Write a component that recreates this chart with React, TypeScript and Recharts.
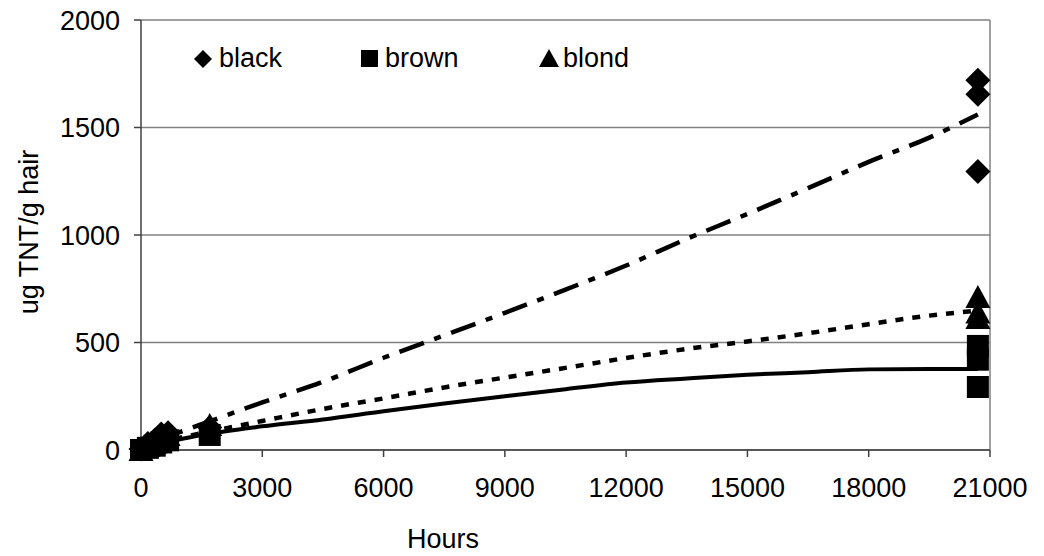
import React from 'react'
import {
  ComposedChart, Line, Scatter, XAxis, YAxis, CartesianGrid, ReferenceLine
} from 'recharts'

// trend curves
const trendHours = [0, 1500, 3000, 4500, 6000, 7500, 9000, 10500, 12000, 13500, 15000, 16500, 18000, 19500, 20700]
const blackTrend = [20, 120, 221, 317, 429, 533, 638, 746, 858, 982, 1098, 1218, 1340, 1453, 1560]
const blondTrend = [20, 78, 135, 191, 240, 291, 337, 382, 428, 470, 505, 543, 585, 625, 648]
const brownTrend = [10, 70, 110, 142, 180, 216, 250, 283, 314, 333, 350, 362, 375, 377, 377]

// measured samples
const sampleHours = [0, 170, 340, 500, 670, 1700, 20700, 20700, 20700]
const blackValues = [5, 30, 45, 75, 80, 105, 1720, 1655, 1295]
const brownValues = [0, 10, 20, 35, 45, 70, 484, 420, 293]
const blondValues = [0, 20, 35, 55, 70, 116, 712, 640, 614]

const xTicks = [0, 3000, 6000, 9000, 12000, 15000, 18000, 21000]
const yTicks = [0, 500, 1000, 1500, 2000]

const toPoints = (xs: number[], ys: number[]) => xs.map((x, i) => ({ x, y: ys[i] }))

const FONT = 'Liberation Sans, Arial, sans-serif'

const Diamond = ({ cx, cy }: any) => (
  <polygon points={`${cx},${cy - 12.5} ${cx + 12.5},${cy} ${cx},${cy + 12.5} ${cx - 12.5},${cy}`} fill="#000" />
)
const Square = ({ cx, cy }: any) => (
  <rect x={cx - 11} y={cy - 11} width={22} height={22} fill="#000" />
)
const Triangle = ({ cx, cy }: any) => (
  <polygon points={`${cx},${cy - 12} ${cx + 12.5},${cy + 11} ${cx - 12.5},${cy + 11}`} fill="#000" />
)

const tickStyle = { fontSize: 27, fontFamily: FONT, fill: '#000' }

export default function App() {
  return (
    <div style={{ position: 'absolute', left: 0, top: 0, width: 1044, height: 556, background: '#fff' }}>
      <ComposedChart width={1044} height={556} margin={{ top: 20, right: 54, bottom: 56, left: 41 }}>
        <CartesianGrid vertical={false} stroke="#808080" strokeWidth={1.5} />
        <ReferenceLine x={21000} stroke="#808080" strokeWidth={1.5} />
        <XAxis
          type="number" dataKey="x" domain={[0, 21000]} ticks={xTicks}
          height={50} tickSize={7} tickMargin={21} tick={tickStyle}
          axisLine={{ stroke: '#404040', strokeWidth: 1.5 }} tickLine={{ stroke: '#404040', strokeWidth: 1.5 }}
        />
        <YAxis
          type="number" dataKey="y" domain={[0, 2000]} ticks={yTicks}
          width={100} tickSize={7} tickMargin={14} tick={tickStyle}
          axisLine={{ stroke: '#404040', strokeWidth: 1.5 }} tickLine={{ stroke: '#404040', strokeWidth: 1.5 }}
        />
        <Line data={toPoints(trendHours, brownTrend)} dataKey="y" type="monotone" stroke="#000" strokeWidth={4} dot={false} isAnimationActive={false} />
        <Line data={toPoints(trendHours, blondTrend)} dataKey="y" type="monotone" stroke="#000" strokeWidth={4.5} strokeDasharray="8 9" dot={false} isAnimationActive={false} />
        <Line data={toPoints(trendHours, blackTrend)} dataKey="y" type="monotone" stroke="#000" strokeWidth={4.5} strokeDasharray="26 11 7 11" dot={false} isAnimationActive={false} />
        <Scatter data={toPoints(sampleHours, brownValues)} dataKey="y" shape={Square} isAnimationActive={false} />
        <Scatter data={toPoints(sampleHours, blondValues)} dataKey="y" shape={Triangle} isAnimationActive={false} />
        <Scatter data={toPoints(sampleHours, blackValues)} dataKey="y" shape={Diamond} isAnimationActive={false} />
      </ComposedChart>

      {/* legend, drawn inside the plot like the original */}
      <svg width={1044} height={556} style={{ position: 'absolute', left: 0, top: 0, pointerEvents: 'none' }}>
        <polygon points="203,50 212,59 203,68 194,59" fill="#000" />
        <text x={219} y={67} fontSize={27} fontFamily={FONT}>black</text>
        <rect x={361} y={50} width={17} height={17} fill="#000" />
        <text x={385} y={67} fontSize={27} fontFamily={FONT}>brown</text>
        <polygon points="549,49 559,67 539,67" fill="#000" />
        <text x={563} y={67} fontSize={27} fontFamily={FONT}>blond</text>
        <text x={443} y={548} fontSize={27} fontFamily={FONT} textAnchor="middle">Hours</text>
        <text x={0} y={0} fontSize={27} fontFamily={FONT} textAnchor="middle" transform="translate(38,232) rotate(-90)">ug TNT/g hair</text>
      </svg>
    </div>
  )
}
